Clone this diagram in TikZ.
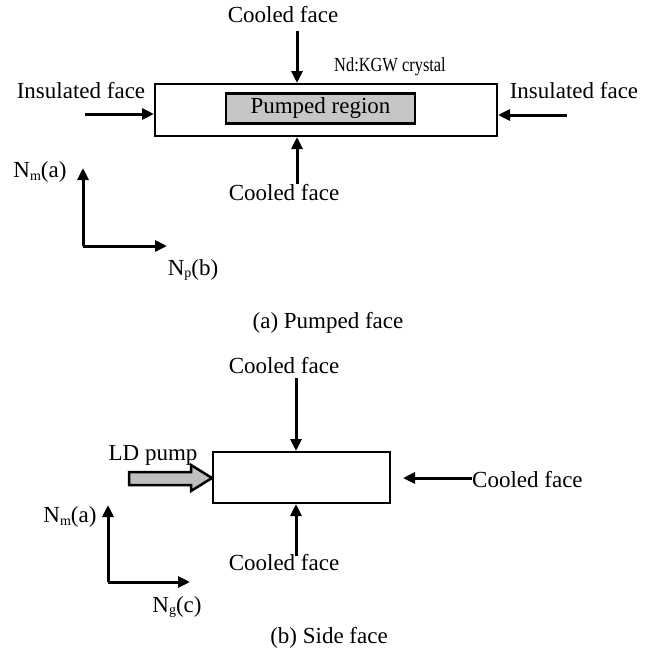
\documentclass[tikz,border=0pt]{standalone}
\usepackage{fontspec}
\setmainfont{Liberation Serif}
\usetikzlibrary{arrows.meta}
\newcommand{\lsub}[1]{\raisebox{-2.5pt}{\fontsize{14}{14}\selectfont #1}}
\begin{document}
\begin{tikzpicture}[x=1pt,y=-1pt,
  lbl/.style={font=\fontsize{23}{26}\selectfont, inner sep=0pt},
  smalllbl/.style={font=\fontsize{20}{23}\selectfont, inner sep=0pt},
  crystalbox/.style={draw, line width=2pt, inner sep=0pt},
  pumpbox/.style={draw, line width=2.5pt, fill=gray!45, inner sep=0pt, font=\fontsize{23}{26}\selectfont},
  arr/.style={line width=3pt, -{Triangle[length=12pt,width=11pt]}},
  blockarr/.style={draw, line width=2.5pt, fill=gray!50, line join=miter}
]
\useasboundingbox (0,0) rectangle (656,653);
% ---------- (a) ----------
\node[crystalbox, minimum width=342pt, minimum height=52pt] (crys) at (326,110) {};
\node[pumpbox, minimum width=189pt, minimum height=30pt] (pump) at (320.5,108.5) {Pumped region};
\node[lbl] (cf1) at (283,15) {Cooled face};
\node[smalllbl] (nd) at (390,67) {\scalebox{0.82}[1]{Nd:KGW crystal}};
\node[lbl] (ins1) at (81,91) {Insulated face};
\node[lbl] (ins2) at (574,91) {Insulated face};
\node[lbl] (cf2) at (284,193) {Cooled face};
\coordinate (a1) at (297,31);
\coordinate (a2) at (297,184);
\coordinate (a3) at (85,114);
\coordinate (a4) at (567,115);
\draw[arr] (a1) -- (a1 |- crys.north);
\draw[arr] (a2) -- (a2 |- crys.south);
\draw[arr] (a3) -- (a3 -| crys.west);
\draw[arr] (a4) -- (a4 -| crys.east);
% axes (a)
\coordinate (o1) at (83,246);
\coordinate (y1) at (83,168);
\coordinate (x1) at (167,246);
\draw[arr] (o1) -- (y1);
\draw[arr] (o1) -- (x1);
\node[lbl] (nm1) at (40,172) {N\lsub{m}(a)};
\node[lbl] (np) at (193,270) {N\lsub{p}(b)};
\node[lbl] (capa) at (328,323) {(a) Pumped face};
% ---------- (b) ----------
\node[crystalbox, minimum width=177pt, minimum height=51pt] (side) at (301.5,477.5) {};
\node[lbl] (cf3) at (284,366) {Cooled face};
\node[lbl] (cf4) at (284,563) {Cooled face};
\node[lbl, anchor=west] (cf5) at (472,480) {Cooled face};
\node[lbl] (ld) at (153,455) {LD pump};
\coordinate (b1) at (296,378);
\coordinate (b2) at (296,556);
\draw[arr] (b1) -- (b1 |- side.north);
\draw[arr] (b2) -- (b2 |- side.south);
\draw[arr, shorten >=12pt] (cf5.west |- 0,478) -- (side.east |- 0,478);
\path[blockarr] (side.west |- 0,478) -- ++(-21,-13) -- ++(0,7) -- ++(-62,0) -- ++(0,13) -- ++(62,0) -- ++(0,6) -- cycle;
% axes (b)
\coordinate (o2) at (108,582);
\coordinate (y2) at (108,505);
\coordinate (x2) at (190,582);
\draw[arr] (o2) -- (y2);
\draw[arr] (o2) -- (x2);
\node[lbl] (nm2) at (70,517) {N\lsub{m}(a)};
\node[lbl] (ng) at (177,607) {N\lsub{g}(c)};
\node[lbl] (capb) at (329,638) {(b) Side face};
\end{tikzpicture}
\end{document}
